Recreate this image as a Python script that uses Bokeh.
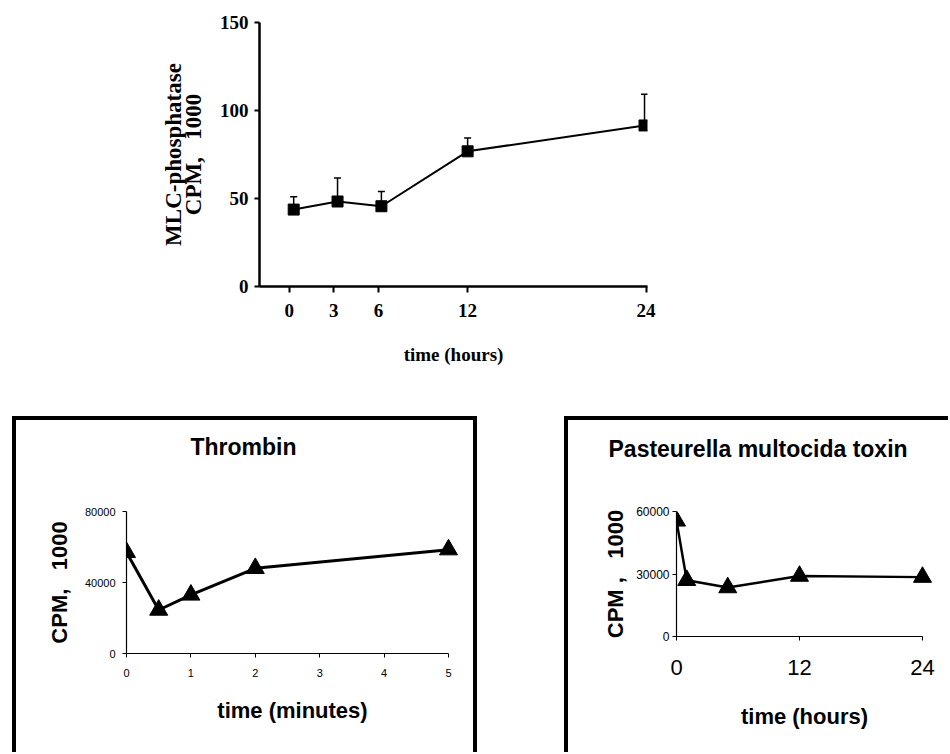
from bokeh.plotting import figure
from bokeh.models import Title, FixedTicker, Whisker, TeeHead, ColumnDataSource, Spacer, Range1d, LinearAxis
from bokeh.layouts import column, row
from bokeh.embed import file_html
from bokeh.resources import INLINE

# ---- data ----
# Top panel: MLC-phosphatase activity vs time (hours)
mlc_time = [0.3, 3.25, 6.2, 12, 23.9]
mlc_cpm = [43.7, 48.3, 45.6, 76.8, 91.5]
mlc_err = [7.3, 13.3, 8.4, 7.6, 17.8]
mlc_xticks = [0, 3, 6, 12, 24]
mlc_yticks = [0, 50, 100, 150]

# Bottom left: Thrombin, time in minutes
thr_time = [0, 0.5, 1, 2, 5]
thr_cpm = [57000, 24500, 33000, 48000, 58500]
thr_xticks = [0, 1, 2, 3, 4, 5]
thr_yticks = [0, 40000, 80000]

# Bottom right: Pasteurella multocida toxin, time in hours
pmt_time = [0, 1, 5, 12, 24]
pmt_cpm = [55500, 27000, 23500, 29000, 28500]
pmt_xticks = [0, 12, 24]
pmt_yticks = [0, 30000, 60000]

SERIF = "Liberation Serif"
SANS = "Liberation Sans"

# ---------------- top figure ----------------
p1 = figure(width=659, height=368, x_range=Range1d(-2.0, 24.1), y_range=Range1d(0, 150),
            output_backend="svg", toolbar_location=None,
            min_border_left=251, min_border_right=20, min_border_top=14, min_border_bottom=90)
p1.grid.visible = False
p1.outline_line_color = None
p1.xaxis.ticker = FixedTicker(ticks=mlc_xticks)
p1.yaxis.ticker = FixedTicker(ticks=mlc_yticks)
for ax in (p1.xaxis[0], p1.yaxis[0]):
    ax.axis_line_width = 2.5
    ax.axis_line_color = "black"
    ax.major_tick_line_width = 2
    ax.major_tick_line_color = "black"
    ax.minor_tick_line_color = None
    ax.major_tick_in = 0
    ax.major_label_text_font = SERIF
    ax.major_label_text_font_style = "bold"
    ax.major_label_text_font_size = "19px"
    ax.major_label_text_color = "black"
    ax.axis_label_text_font = SERIF
    ax.axis_label_text_font_style = "bold"
    ax.axis_label_text_color = "black"
p1.xaxis.major_tick_out = 6
p1.xaxis.major_label_standoff = 11
p1.xaxis.axis_label = "time (hours)"
p1.xaxis.axis_label_text_font_size = "19px"
p1.xaxis.axis_label_standoff = 24
p1.yaxis.major_tick_out = 5
p1.yaxis.major_label_standoff = 6
p1.yaxis.axis_label = "CPM,\u00a0\u00a0\u00a01000"
p1.yaxis.axis_label_text_font_size = "23px"
p1.yaxis.axis_label_standoff = 11
t1 = Title(text="MLC-phosphatase", align="center", text_font=SERIF, text_font_style="bold",
           text_font_size="23px", text_color="black", standoff=-16)
p1.add_layout(t1, "left")

src1 = ColumnDataSource(dict(x=mlc_time, y=mlc_cpm,
                             upper=[v + e for v, e in zip(mlc_cpm, mlc_err)]))
p1.add_layout(Whisker(source=src1, base="x", lower="y", upper="upper", dimension="height",
                      line_color="black", line_width=1.5, lower_head=None,
                      upper_head=TeeHead(size=7, line_color="black", line_width=1.5)))
p1.line("x", "y", source=src1, line_color="black", line_width=2)
p1.scatter("x", "y", source=src1, marker="square", size=11, fill_color="black", line_color="black")


def small_panel(width, height, xr, xbounds, yr, mbl, mbr, mbt, mbb, title, title_offset, gap_px, shadow):
    p = figure(width=width, height=height, x_range=xr, y_range=yr, title=None,
               output_backend="svg", toolbar_location=None,
               min_border_left=mbl, min_border_right=mbr, min_border_top=mbt, min_border_bottom=mbb,
               border_fill_color=None, background_fill_color=None,
               styles={"box-shadow": shadow})
    p.grid.visible = False
    p.outline_line_color = None
    xax, yax = p.below[0], p.left[0]
    xax.bounds = xbounds
    for ax in (xax, yax):
        ax.axis_line_width = 1.2
        ax.axis_line_color = "black"
        ax.major_tick_line_width = 1
        ax.major_tick_line_color = "black"
        ax.minor_tick_line_color = None
        ax.major_tick_in = 0
        ax.major_tick_out = 4
        ax.major_label_text_font = SANS
        ax.major_label_text_font_style = "normal"
        ax.major_label_text_color = "black"
        ax.axis_label_text_font = SANS
        ax.axis_label_text_font_style = "bold"
        ax.axis_label_text_color = "black"
        ax.axis_label_text_font_size = "22px"
    # invisible axis used only as a gap between the frame and the heading
    gap = LinearAxis(ticker=FixedTicker(ticks=[xbounds[0]]), axis_line_color=None,
                     major_tick_line_color=None, minor_tick_line_color=None,
                     major_tick_in=0, major_tick_out=gap_px, major_label_standoff=0,
                     major_label_overrides={xbounds[0]: ""}, major_label_text_font_size="1px")
    p.add_layout(gap, "above")
    head = Title(text=title, align="left", offset=title_offset, standoff=0,
                 text_font=SANS, text_font_style="bold", text_font_size="23px",
                 text_color="black")
    p.add_layout(head, "above")
    return p, xax, yax


# ---------------- bottom left: Thrombin ----------------
p2, x2, y2 = small_panel(465, 336, Range1d(0, 5.1553), (0, 5), Range1d(0, 80000),
                         114, 19, 95, 99, "Thrombin", 64, 52,
                         "inset 4px 4px 0 0 black, inset -4px 0 0 0 black")
x2.ticker = FixedTicker(ticks=thr_xticks)
y2.ticker = FixedTicker(ticks=thr_yticks)
y2.major_label_overrides = {v: str(v) for v in thr_yticks}
x2.major_label_text_font_size = "11px"
y2.major_label_text_font_size = "11px"
x2.major_label_standoff = 11
y2.major_label_standoff = 7
x2.axis_label = "time (minutes)"
x2.axis_label_standoff = 18
y2.axis_label = "CPM,\u00a0\u00a0\u00a01000"
y2.axis_label_standoff = 10
p2.line(thr_time, thr_cpm, line_color="black", line_width=3)
p2.scatter(thr_time, thr_cpm, marker="triangle", size=18, fill_color="black", line_color="black")

# ---------------- bottom right: Pasteurella multocida toxin ----------------
p3, x3, y3 = small_panel(384, 319, Range1d(0, 24.976), (0, 24), Range1d(0, 60000),
                         112, 16, 95, 99, "Pasteurella multocida toxin", -68, 50,
                         "inset 4px 4px 0 0 black")
x3.ticker = FixedTicker(ticks=pmt_xticks)
y3.ticker = FixedTicker(ticks=pmt_yticks)
y3.major_label_overrides = {v: str(v) for v in pmt_yticks}
x3.major_label_text_font_size = "22px"
y3.major_label_text_font_size = "12px"
x3.major_label_standoff = 19
y3.major_label_standoff = 3
x3.axis_label = "time (hours)"
x3.axis_label_standoff = 26
y3.axis_label = "CPM ,\u00a0\u00a0\u00a01000"
y3.axis_label_standoff = 5
p3.line(pmt_time, pmt_cpm, line_color="black", line_width=2.5)
p3.scatter(pmt_time, pmt_cpm, marker="triangle", size=18, fill_color="black", line_color="black")

p3_tail = Spacer(width=384, height=17, styles={"box-shadow": "inset 4px 0 0 0 black"})

layout = column(
    Spacer(height=8),
    row(Spacer(width=8), p1),
    Spacer(height=40),
    row(Spacer(width=12), p2, Spacer(width=87), column(p3, p3_tail)),
)

open("out.html", "w").write(file_html(layout, INLINE))
